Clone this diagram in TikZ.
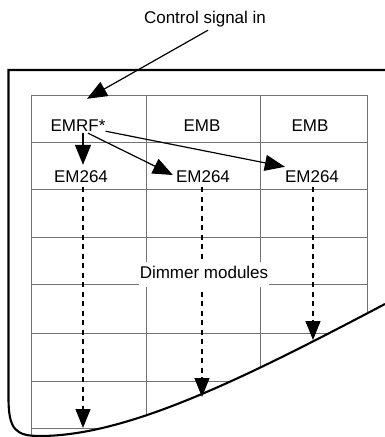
\documentclass[tikz,border=0pt]{standalone}
\usepackage{fontspec}
\setmainfont{Liberation Sans}
\usetikzlibrary{arrows.meta,calc}
\begin{document}
\begin{tikzpicture}[x=1pt,y=-1pt,
  lbl/.style={inner sep=0pt,text height=12pt,text depth=0pt,font=\fontsize{17}{20}\selectfont,text=black},
  gridline/.style={draw=black!55,line width=0.9pt},
  frameline/.style={draw=black,line width=2.1pt},
  arr/.style={line width=1.2pt,-{Triangle[length=20pt,width=16pt]}},
  dasharr/.style={line width=1.2pt,dash pattern=on 5pt off 4.5pt,-{Triangle[length=19pt,width=15pt]}}]
\useasboundingbox (0,0) rectangle (385,437);
% grid, clipped by the curved frame
\begin{scope}
  \clip (0,0) -- (385,0) -- (385,304) .. controls (250,375) and (130,436) .. (40,436) -- (0,436) -- cycle;
  \foreach \y in {95,142,189,237,284,333,381,428} \draw[gridline] (31.7,\y) -- (367.7,\y);
  \foreach \x in {31.7,146,260,367.7} \draw[gridline] (\x,95) -- (\x,437);
\end{scope}
% frame
\draw[frameline] (385,70) -- (8.5,70) -- (8.5,398) .. controls (8.5,430) and (16,436) .. (40,436)
  .. controls (130,436) and (250,375) .. (385,304);
% labels
\node[lbl] (ctrl) at (205,17) {Control signal in};
\node[lbl] (emrf) at (78,125) {EMRF*};
\node[lbl] (emb1) at (202,125) {EMB};
\node[lbl] (emb2) at (310,125) {EMB};
\node[lbl] (em1) at (81,176) {EM264};
\node[lbl] (em2) at (203,176) {EM264};
\node[lbl] (em3) at (312,176) {EM264};
% dashed ends
\coordinate (d1) at (83,428);
\coordinate (d2) at (202,397);
\coordinate (d3) at (313,340);
% connectors
\draw[arr] ($(ctrl.south)+(3,7)$) -- ($(emrf.north)+(9,-20)$);
\draw[arr] ($(emrf.south)+(5,2)$) -- ($(em1.north)+(2,-5)$);
\draw[arr] ($(emrf.south)+(10,2)$) -- ($(em2.west)+(-3,-1)$);
\draw[arr] ($(emrf.south east)+(0,0)$) -- ($(em3.north west)+(0,-3)$);
\draw[dasharr] ($(em1.south)+(2,5)$) -- (d1);
\draw[dasharr] ($(em2.south)+(-1,5)$) -- (d2);
\draw[dasharr] ($(em3.south)+(1,5)$) -- (d3);
% label over the grid and dashed line
\node[lbl,fill=white,inner xsep=0.5pt,inner ysep=4pt,text height=12pt,text depth=5pt] (dim) at (204,274.5) {Dimmer modules};
\end{tikzpicture}
\end{document}
